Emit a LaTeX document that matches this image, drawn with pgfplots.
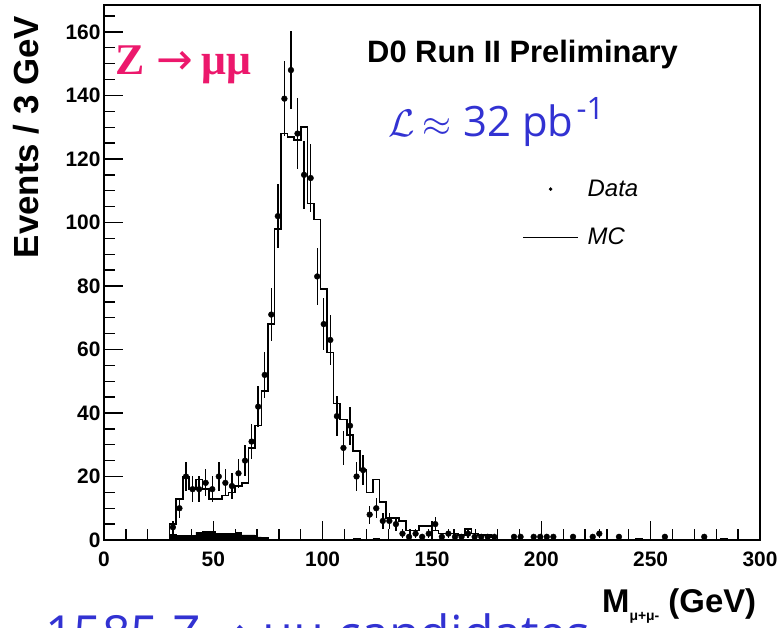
\documentclass[border=0pt]{standalone}
\usepackage{graphicx}
\usepackage{pgfplots}
\pgfplotsset{compat=1.18}
\usepackage{fontspec}
\setmainfont{Liberation Sans}
\newfontfamily\lumfont{Open Sans}
\newfontfamily\zfont{Liberation Serif}
\newfontfamily\symfont{DejaVu Sans}
\definecolor{zpink}{RGB}{236,24,108}
\definecolor{lumblue}{RGB}{50,50,210}

\begin{document}
\begin{tikzpicture}[x=1bp,y=1bp]
\begin{axis}[
  at={(0,0)}, anchor=south west,
  width=656bp, height=535bp, scale only axis,
  xmin=0, xmax=300, ymin=0, ymax=168.5,
  clip=false,
  axis line style={line width=1.6bp},
  xtick={0,50,...,300}, ytick={0,20,...,160},
  minor xtick={0,10,...,300}, minor ytick={0,5,...,165},
  xtick pos=left, ytick pos=left, tick align=inside,
  major tick length=19bp, minor tick length=11bp,
  tick style={line width=1.3bp, black},
  /pgf/number format/assume math mode=true,
  ticklabel style={font=\bfseries\fontsize{21}{21}\selectfont},
  xticklabel style={yshift=-8bp},
  xlabel={M\raisebox{-8bp}{\fontsize{14}{14}\selectfont μ+μ-} (GeV)},
  xlabel style={at={(rel axis cs:0.759,-0.1364)}, anchor=base west,
    font=\bfseries\fontsize{33}{33}\selectfont, inner sep=0pt},
  ylabel={Events / 3 GeV},
  ylabel style={at={(rel axis cs:-0.0991,0.7533)}, anchor=base,
    font=\bfseries\fontsize{35}{35}\selectfont, inner sep=0pt},
  legend style={draw=none, fill=none, at={(axis cs:191.3,113.4)}, anchor=north west,
    inner sep=0pt, column sep=9bp, row sep=30bp,
    font=\itshape\fontsize{24}{24}\selectfont,
    nodes={inner sep=0pt}},
  legend cell align=left,
]

% background contribution (filled)
\addplot[const plot, fill=black, draw=black, line width=0.6bp, forget plot] coordinates {
  (30,0) (30,1.8) (33,1.5) (36,1.5) (39,1.5) (42,2.5) (45,2.6) (48,2.6) (51,2.2)
  (54,2.1) (57,2.1) (60,2.3) (63,1.6) (66,1.6) (69,1.0) (72,0.9) (75,0.3)
  (78,0.2) (81,0.2) (84,0) (87,0.3) (90,0) (114,0) (114,0.4) (117,0)
  (123,0) (123,0.4) (126,0) (243,0) (243,0.4) (246,0) (282,0) (282,0.4) (285,0)
} \closedcycle;

% Monte Carlo expectation
\addplot[const plot, black, line width=1.6bp, forget plot] coordinates {
  (30,0) (30,5) (33,13) (36,20) (39,16) (42,19) (45,16) (48,13) (51,13)
  (54,14) (57,15) (60,17) (63,18) (66,29) (69,36) (72,47) (75,68) (78,98)
  (81,128) (84,127) (87,126) (90,130) (93,106) (96,101) (99,79) (102,59)
  (105,43) (108,38) (111,33) (114,28) (117,22) (120,15) (123,19) (126,12)
  (129,7) (132,7) (135,6) (138,3) (141,3) (144,4.5) (147,4.5) (150,3)
  (153,2) (156,2) (159,2) (162,1.5) (165,3.5) (168,2) (171,1.5) (174,1.5)
  (177,1) (180,0)
};

% data with statistical errors
\addplot[black, only marks, mark=*, mark size=2.9bp, forget plot,
  error bars/.cd, y dir=both, y explicit, error mark=none,
  error bar style={line width=1.4bp, black}] coordinates {
  (31.5,4) +- (0,2)
  (34.5,10) +- (0,3.16)
  (37.5,20) +- (0,4.47)
  (40.5,16) +- (0,4)
  (43.5,16) +- (0,4)
  (46.5,18) +- (0,4.24)
  (49.5,16) +- (0,4)
  (52.5,20) +- (0,4.47)
  (55.5,18) +- (0,4.24)
  (58.5,17) +- (0,4.12)
  (61.5,21) +- (0,4.58)
  (64.5,25) +- (0,5)
  (67.5,31) +- (0,5.57)
  (70.5,42) +- (0,6.48)
  (73.5,52) +- (0,7.21)
  (76.5,71) +- (0,8.43)
  (79.5,102) +- (0,10.1)
  (82.5,139) +- (0,11.79)
  (85.5,148) +- (0,12.17)
  (88.5,128) +- (0,11.31)
  (91.5,115) +- (0,10.72)
  (94.5,114) +- (0,10.68)
  (97.5,83) +- (0,9.11)
  (100.5,68) +- (0,8.25)
  (103.5,63) +- (0,7.94)
  (106.5,39) +- (0,6.24)
  (109.5,29) +- (0,5.39)
  (112.5,36) +- (0,6)
  (115.5,20) +- (0,4.47)
  (118.5,22) +- (0,4.69)
  (121.5,8) +- (0,2.83)
  (124.5,10) +- (0,3.16)
  (127.5,6) +- (0,2.45)
  (130.5,6) +- (0,2.45)
  (133.5,5) +- (0,2.24)
  (136.5,2) +- (0,1.41)
  (139.5,1) +- (0,1)
  (142.5,2) +- (0,1.41)
  (145.5,1) +- (0,1)
  (148.5,2) +- (0,1.41)
  (151.5,5) +- (0,2.24)
  (154.5,1) +- (0,1)
  (157.5,2) +- (0,1.41)
  (160.5,1) +- (0,1)
  (163.5,1) +- (0,1)
  (166.5,2) +- (0,1.41)
  (169.5,1) +- (0,1)
  (172.5,1) +- (0,1)
  (175.5,1) +- (0,1)
  (178.5,1) +- (0,1)
  (187.5,1) +- (0,1)
  (190.5,1) +- (0,1)
  (196.5,1) +- (0,1)
  (199.5,1) +- (0,1)
  (202.5,1) +- (0,1)
  (205.5,1) +- (0,1)
  (214.5,1) +- (0,1)
  (223.5,1) +- (0,1)
  (226.5,2) +- (0,1.41)
  (235.5,1) +- (0,1)
  (256.5,1) +- (0,1)
  (274.5,1) +- (0,1)
};

\addlegendimage{legend image code/.code={\path[draw=none] (0bp,0) -- (55bp,0); \fill[black] (27.5bp,0) circle (1.6bp);}}
\addlegendentry{Data}
\addlegendimage{legend image code/.code={\draw[black, line width=1.2bp] (0bp,0) -- (55bp,0);}}
\addlegendentry{MC}
\end{axis}

\node[anchor=base west, inner sep=0pt, text=zpink] at (11,465)
  {\fontsize{44}{44}\selectfont{\zfont\bfseries Z}\hspace{12bp}{\symfont\fontsize{44}{44}\selectfont →}\hspace{8bp}{\zfont\bfseries μμ}};
\node[anchor=base west, inner sep=0pt] at (263,477)
  {\bfseries\fontsize{31}{31}\selectfont D0 Run II Preliminary};
\node[anchor=base west, inner sep=0pt, text=lumblue] at (284,403)
  {\fontsize{42}{42}\selectfont\lumfont \scalebox{1.55}{$\mathcal{L}$}\hspace{8bp}\scalebox{1.5}{$\approx$}\hspace{12bp}32 pb\hspace{3bp}\raisebox{17bp}{\fontsize{31}{31}\selectfont -1}};
\node[anchor=base west, inner sep=0pt, text=lumblue] at (-59,-112)
  {\fontsize{50}{50}\selectfont\lumfont 1585 Z\hspace{10bp}{\symfont →}\hspace{10bp}μμ\hspace{14bp}candidates};

\pgfresetboundingbox
\useasboundingbox (-104,-88) rectangle (677,540);
\end{tikzpicture}
\end{document}
